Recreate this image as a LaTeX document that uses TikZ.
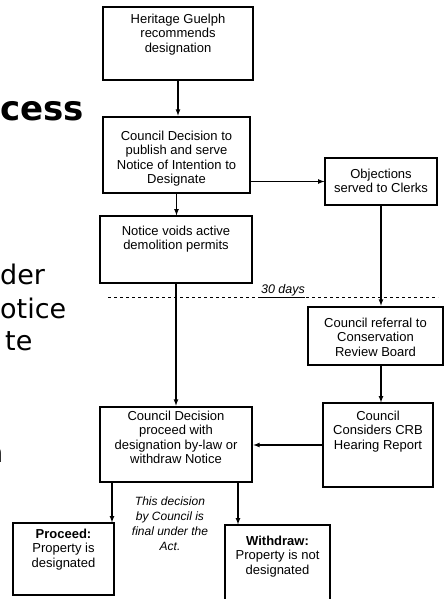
\documentclass[tikz,border=0pt]{standalone}
\usepackage{fontspec}
\setmainfont{Liberation Sans}
\newfontfamily\slidefont{DejaVu Sans}
\usetikzlibrary{positioning}

\begin{document}
\begin{tikzpicture}[x=1pt,y=-1pt,>=latex,
    box/.style={draw, line width=1.2pt, inner sep=0pt},
    heavy/.style={box, line width=2.6pt},
    txt/.style={align=center, inner sep=0pt, font=\fontsize{13}{14.5}\selectfont},
    slide/.style={inner sep=0pt, anchor=base west, font=\slidefont\fontsize{27}{30}\selectfont}]
    \useasboundingbox (0,0) rectangle (444,599);

    % bits of the slide text behind the chart
    \node[slide, font=\slidefont\bfseries\fontsize{34}{38}\selectfont] (title) at (0,121) {cess};
    \node[slide] (lineA) at (0,284) {der};
    \node[slide] (lineB) at (0,318) {otice};
    \node[slide] (lineC) at (5,350) {te};
    \node[slide] (lineD) at (-14,462) {n};

    % boxes
    \node[box, minimum width=150, minimum height=73] (herit) at (178,43.5) {};
    \node[heavy, minimum width=147, minimum height=76] (decide) at (176.5,155) {};
    \node[box, minimum width=112, minimum height=47] (obj) at (381,181.5) {};
    \node[box, minimum width=152, minimum height=67] (voids) at (176,249.5) {};
    \node[heavy, minimum width=135, minimum height=58] (refer) at (375.5,336) {};
    \node[box, minimum width=110, minimum height=84] (crb) at (378,445) {};
    \node[heavy, minimum width=152, minimum height=75] (final) at (176,444.5) {};
    \node[box, minimum width=101, minimum height=72] (proceed) at (63.5,559) {};
    \node[box, minimum width=105, minimum height=76] (withdraw) at (277.5,563) {};

    % texts in the boxes
    \node[txt, below=7pt of herit.north] {Heritage Guelph\\recommends\\designation};
    \node[txt, below=15pt of decide.north] {Council Decision to\\publish and serve\\Notice of Intention to\\Designate};
    \node[txt, below=11pt of obj.north] {Objections\\served to Clerks};
    \node[txt, below=10pt of voids.north] {Notice voids active\\demolition permits};
    \node[txt, below=12pt of refer.north] {Council referral to\\Conservation\\Review Board};
    \node[txt, below=8pt of crb.north] {Council\\Considers CRB\\Hearing Report};
    \node[txt, below=5pt of final.north] {Council Decision\\proceed with\\designation by-law or\\withdraw Notice};
    \node[txt, below=6pt of proceed.north] {\bfseries Proceed:\\Property is\\designated};
    \node[txt, below=11pt of withdraw.north] {\bfseries Withdraw:\\Property is not\\designated};
    \node[txt, anchor=north, font=\itshape\fontsize{12}{15}\selectfont] (note) at (170,497)
        {This decision\\by Council is\\final under the\\Act.};

    % objection period
    \coordinate (dl) at (108,297.5);
    \coordinate (dr) at (438,297.5);
    \draw[dashed, line width=1pt] (dl) -- (dr);
    \node[inner sep=0pt, anchor=base, font=\itshape\fontsize{12.5}{14}\selectfont] (days) at (283,293) {\underline{30 days}};

    % arrows
    \draw[->, line width=1.2pt] (herit.south) -- (herit.south |- decide.north);
    \draw[->, line width=1.2pt] (obj.west -| decide.east) -- (obj.west);
    \draw[->, line width=1.2pt] (decide.south) -- (decide.south |- voids.north);
    \draw[->, line width=1.2pt] (voids.south) -- (voids.south |- final.north);
    \draw[->, line width=1.2pt] (obj.south) -- (obj.south |- refer.north);
    \draw[->, line width=1.2pt] (obj.south |- refer.south) -- (obj.south |- crb.north);
    \draw[->, line width=1.2pt] (crb.west) -- (crb.west -| final.east);
    \coordinate (fl) at ([xshift=-64pt]final.south);
    \coordinate (fr) at ([xshift=62pt]final.south);
    \draw[->, line width=1.2pt] (fl) -- (fl |- proceed.north);
    \draw[->, line width=1.2pt] (fr) -- (fr |- withdraw.north);
\end{tikzpicture}
\end{document}
